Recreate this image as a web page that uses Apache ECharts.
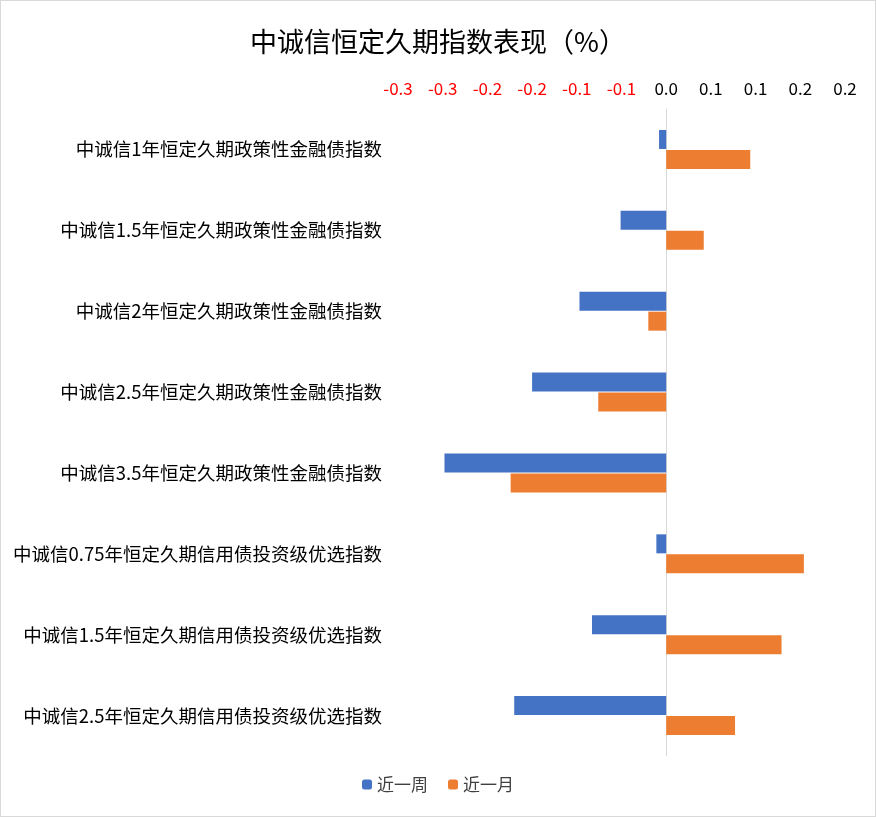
<!DOCTYPE html><html><head><meta charset="utf-8"><script src="https://cdn.jsdelivr.net/npm/echarts@6/dist/echarts.min.js"></script>
<style>html,body{margin:0;padding:0;background:#fff}#c{width:874px;height:815px;border:1px solid #d9d9d9}</style></head><body><div id="c"></div><script>
const categories=["中诚信1年恒定久期政策性金融债指数","中诚信1.5年恒定久期政策性金融债指数","中诚信2年恒定久期政策性金融债指数","中诚信2.5年恒定久期政策性金融债指数","中诚信3.5年恒定久期政策性金融债指数","中诚信0.75年恒定久期信用债投资级优选指数","中诚信1.5年恒定久期信用债投资级优选指数","中诚信2.5年恒定久期信用债投资级优选指数"];
const week=[-0.008,-0.051,-0.097,-0.150,-0.248,-0.011,-0.083,-0.170];
const month=[0.094,0.042,-0.020,-0.076,-0.174,0.154,0.129,0.077];
const tickValues=[-0.30,-0.25,-0.20,-0.15,-0.10,-0.05,0,0.05,0.10,0.15,0.20];
const tickLabels=["-0.3","-0.3","-0.2","-0.2","-0.1","-0.1","0.0","0.1","0.1","0.2","0.2"];
const F='"Microsoft YaHei","Noto Sans CJK SC",sans-serif';
const ch=echarts.init(document.getElementById('c'));
ch.setOption({
title:{text:'中诚信恒定久期指数表现（%）',left:'center',top:22,textStyle:{fontSize:27,fontWeight:'normal',color:'#000',fontFamily:F}},
legend:{bottom:18,itemWidth:10,itemHeight:10,itemGap:20,textStyle:{fontSize:17,color:'#404040',fontFamily:F},data:['近一周','近一月']},
grid:{left:397,right:30,top:108,bottom:60},
xAxis:{type:'value',position:'top',min:-0.3,max:0.2,interval:0.05,splitLine:{show:false},axisLine:{show:false},axisTick:{show:false},
axisLabel:{fontSize:17,fontFamily:F,margin:12,formatter:v=>{let i=tickValues.findIndex(t=>Math.abs(t-v)<1e-6);return i<0?'':tickLabels[i];},color:v=>v<-1e-9?'#ff0000':'#000'}},
yAxis:{type:'category',inverse:true,data:categories,axisTick:{show:false},axisLine:{lineStyle:{color:'#d9d9d9'}},
axisLabel:{fontSize:18.5,fontFamily:F,color:'#000',margin:16}},
series:[{name:'近一周',type:'bar',data:week,barWidth:19,barGap:'5%',itemStyle:{color:'#4472c4'}},
{name:'近一月',type:'bar',data:month,barWidth:19,itemStyle:{color:'#ed7d31'}}]
});
</script></body></html>
